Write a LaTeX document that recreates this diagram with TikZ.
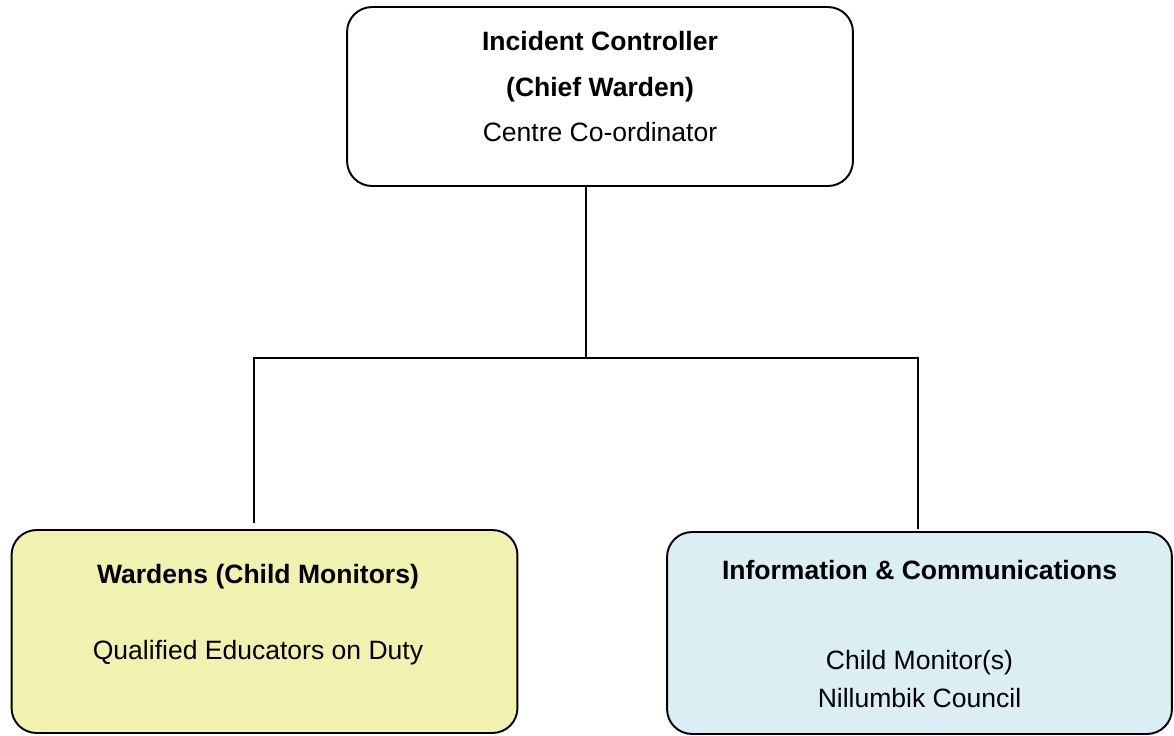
\documentclass[tikz,border=0pt]{standalone}
\usepackage{fontspec}
\setmainfont{Liberation Sans}
\usetikzlibrary{calc}
\definecolor{wardenyellow}{RGB}{242,242,176}
\definecolor{infoblue}{RGB}{218,238,243}
\tikzstyle{role} = [rectangle, rounded corners=0.5cm, minimum width=10.12cm, minimum height=3.58cm, draw=black, line width=1.1pt, inner sep=0pt]
\tikzstyle{roletext} = [font=\fontsize{15.1}{16}\selectfont, align=center, inner sep=0pt, anchor=north]
\tikzstyle{link} = [line width=1.1pt]

\begin{document}
\begin{tikzpicture}[x=0.02cm, y=-0.02cm]
		\useasboundingbox (0,0) rectangle (1174,735);
		\node (controller) [role] at (600,96.5) {};
		\node (wardens) [role, fill=wardenyellow, minimum height=4.06cm] at ($(controller) + (-335.5,535)$) {};
		\node (info) [role, fill=infoblue, minimum width=10.1cm, minimum height=4.04cm] at ($(controller) + (319.5,536.5)$) {};
		
		\node (controllertext) [roletext] at (600,31) {\textbf{Incident Controller}\\[10pt]\textbf{(Chief Warden)}\\[9.5pt]Centre Co-ordinator};
		\node (wardenstext) [roletext] at (258,564) {\textbf{Wardens (Child Monitors)}\\[27pt]Qualified Educators on Duty};
		\node (infotext) [roletext] at (919.5,560) {\textbf{Information \& Communications}\\[35pt]Child Monitor(s)\\[6pt]Nillumbik Council};
		
		\coordinate (split) at ($(controller.south) + (-14,171)$);
		\draw[link] ($(controller.south) + (-14,0)$) -- (split);
		\draw[link] (split) -| ($(wardens.north) + (-10.5,-6)$);
		\draw[link] (split) -| ($(info.north) + (-1.5,-2)$);
	\end{tikzpicture}
\end{document}
